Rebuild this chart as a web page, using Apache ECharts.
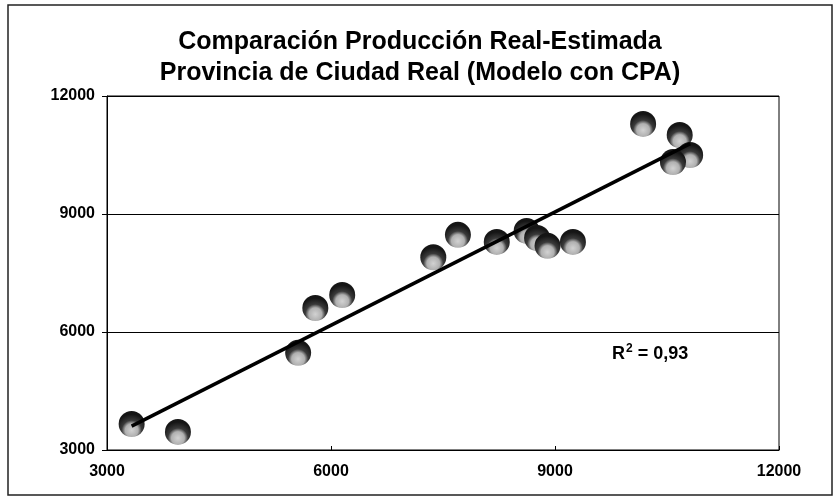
<!DOCTYPE html>
<html style="height: 100%">
<head>
    <meta charset="utf-8">
    <title>Comparación Producción Real-Estimada</title>
    <style>
    body { margin: 0; background: #fff; }
    #container { width: 840px; height: 501px; }
    </style>
</head>
<body>
    <div id="container"></div>
    <script type="text/javascript" src="https://cdn.jsdelivr.net/npm/echarts@6/dist/echarts.min.js"></script>
    <script type="text/javascript">
    // produccion real (x) vs estimada (y)
    var real = [3330, 3950, 5560, 5790, 6150, 7370, 7700, 8220, 8620, 8760, 8900, 9240, 10180, 10670, 10810, 10580];
    var estimada = [3660, 3460, 5470, 6610, 6940, 7900, 8470, 8290, 8570, 8390, 8190, 8290, 11290, 11010, 10500, 10320];
    var axisTicks = [3000, 6000, 9000, 12000];
    var r2Value = '0,93';

    var pts = real.map(function (v, i) { return [v, estimada[i]]; });

    // linea de tendencia (minimos cuadrados)
    var n = real.length, mx = 0, my = 0;
    for (var i = 0; i < n; i++) { mx += real[i]; my += estimada[i]; }
    mx /= n; my /= n;
    var sxy = 0, sxx = 0;
    for (var i = 0; i < n; i++) {
        sxy += (real[i] - mx) * (estimada[i] - my);
        sxx += (real[i] - mx) * (real[i] - mx);
    }
    var b = sxy / sxx, a = my - b * mx;
    var xmin = Math.min.apply(null, real), xmax = Math.max.apply(null, real);
    var trend = [[xmin, a + b * xmin], [xmax, a + b * xmax]];

    var font = '"Liberation Sans", Arial, sans-serif';
    var myChart = echarts.init(document.getElementById('container'));

    var labelStyle = {
        color: '#000',
        fontFamily: font,
        fontWeight: 'bold',
        fontSize: 16,
        formatter: function (v) { return String(v); }
    };

    var option = {
        animation: false,
        backgroundColor: '#fff',
        title: {
            text: 'Comparación Producción Real-Estimada\nProvincia de Ciudad Real (Modelo con CPA)',
            left: 'center',
            top: 22,
            textStyle: {
                fontFamily: font,
                fontWeight: 'bold',
                fontSize: 25,
                lineHeight: 31,
                color: '#000'
            }
        },
        graphic: [{
            type: 'rect',
            shape: { x: 8, y: 5, width: 824, height: 490 },
            style: { fill: 'none', stroke: '#222', lineWidth: 1.5 },
            silent: true
        }, {
            type: 'text',
            left: 612,
            top: 343,
            style: {
                text: '{r|R}{s|2}{r| = ' + r2Value + '}',
                rich: {
                    r: { fontFamily: font, fontWeight: 'bold', fontSize: 18, fill: '#000', verticalAlign: 'bottom' },
                    s: { fontFamily: font, fontWeight: 'bold', fontSize: 12, fill: '#000', verticalAlign: 'top', padding: [0, 0, 8, 1] }
                }
            }
        }],
        grid: {
            left: 107,
            right: 61,
            top: 96,
            bottom: 51,
            show: true,
            borderColor: '#000',
            borderWidth: 1
        },
        xAxis: {
            type: 'value',
            min: axisTicks[0],
            max: axisTicks[axisTicks.length - 1],
            interval: 3000,
            axisLine: { lineStyle: { color: '#000', width: 1 } },
            axisTick: { show: true, inside: true, length: 4, lineStyle: { color: '#000' } },
            splitLine: { show: false },
            axisLabel: Object.assign({ margin: 14 }, labelStyle)
        },
        yAxis: {
            type: 'value',
            min: axisTicks[0],
            max: axisTicks[axisTicks.length - 1],
            interval: 3000,
            axisLine: { show: true, lineStyle: { color: '#000', width: 1 } },
            axisTick: { show: true, length: 5, lineStyle: { color: '#000' } },
            splitLine: { show: true, lineStyle: { color: '#000', width: 1 } },
            axisLabel: Object.assign({ margin: 12 }, labelStyle)
        },
        series: [{
            type: 'scatter',
            data: pts,
            symbol: 'circle',
            symbolSize: 26,
            itemStyle: {
                opacity: 1,
                color: {
                    type: 'radial', x: 0.5, y: 0.74, r: 0.62,
                    colorStops: [
                        { offset: 0, color: '#d2d2d2' },
                        { offset: 0.4, color: '#b0b0b0' },
                        { offset: 0.62, color: '#3a3a3a' },
                        { offset: 1, color: '#151515' }
                    ]
                }
            },
            z: 2
        }, {
            type: 'line',
            data: trend,
            symbol: 'none',
            lineStyle: { color: '#000', width: 3.5 },
            z: 3
        }]
    };

    myChart.setOption(option);
    </script>
</body>
</html>
